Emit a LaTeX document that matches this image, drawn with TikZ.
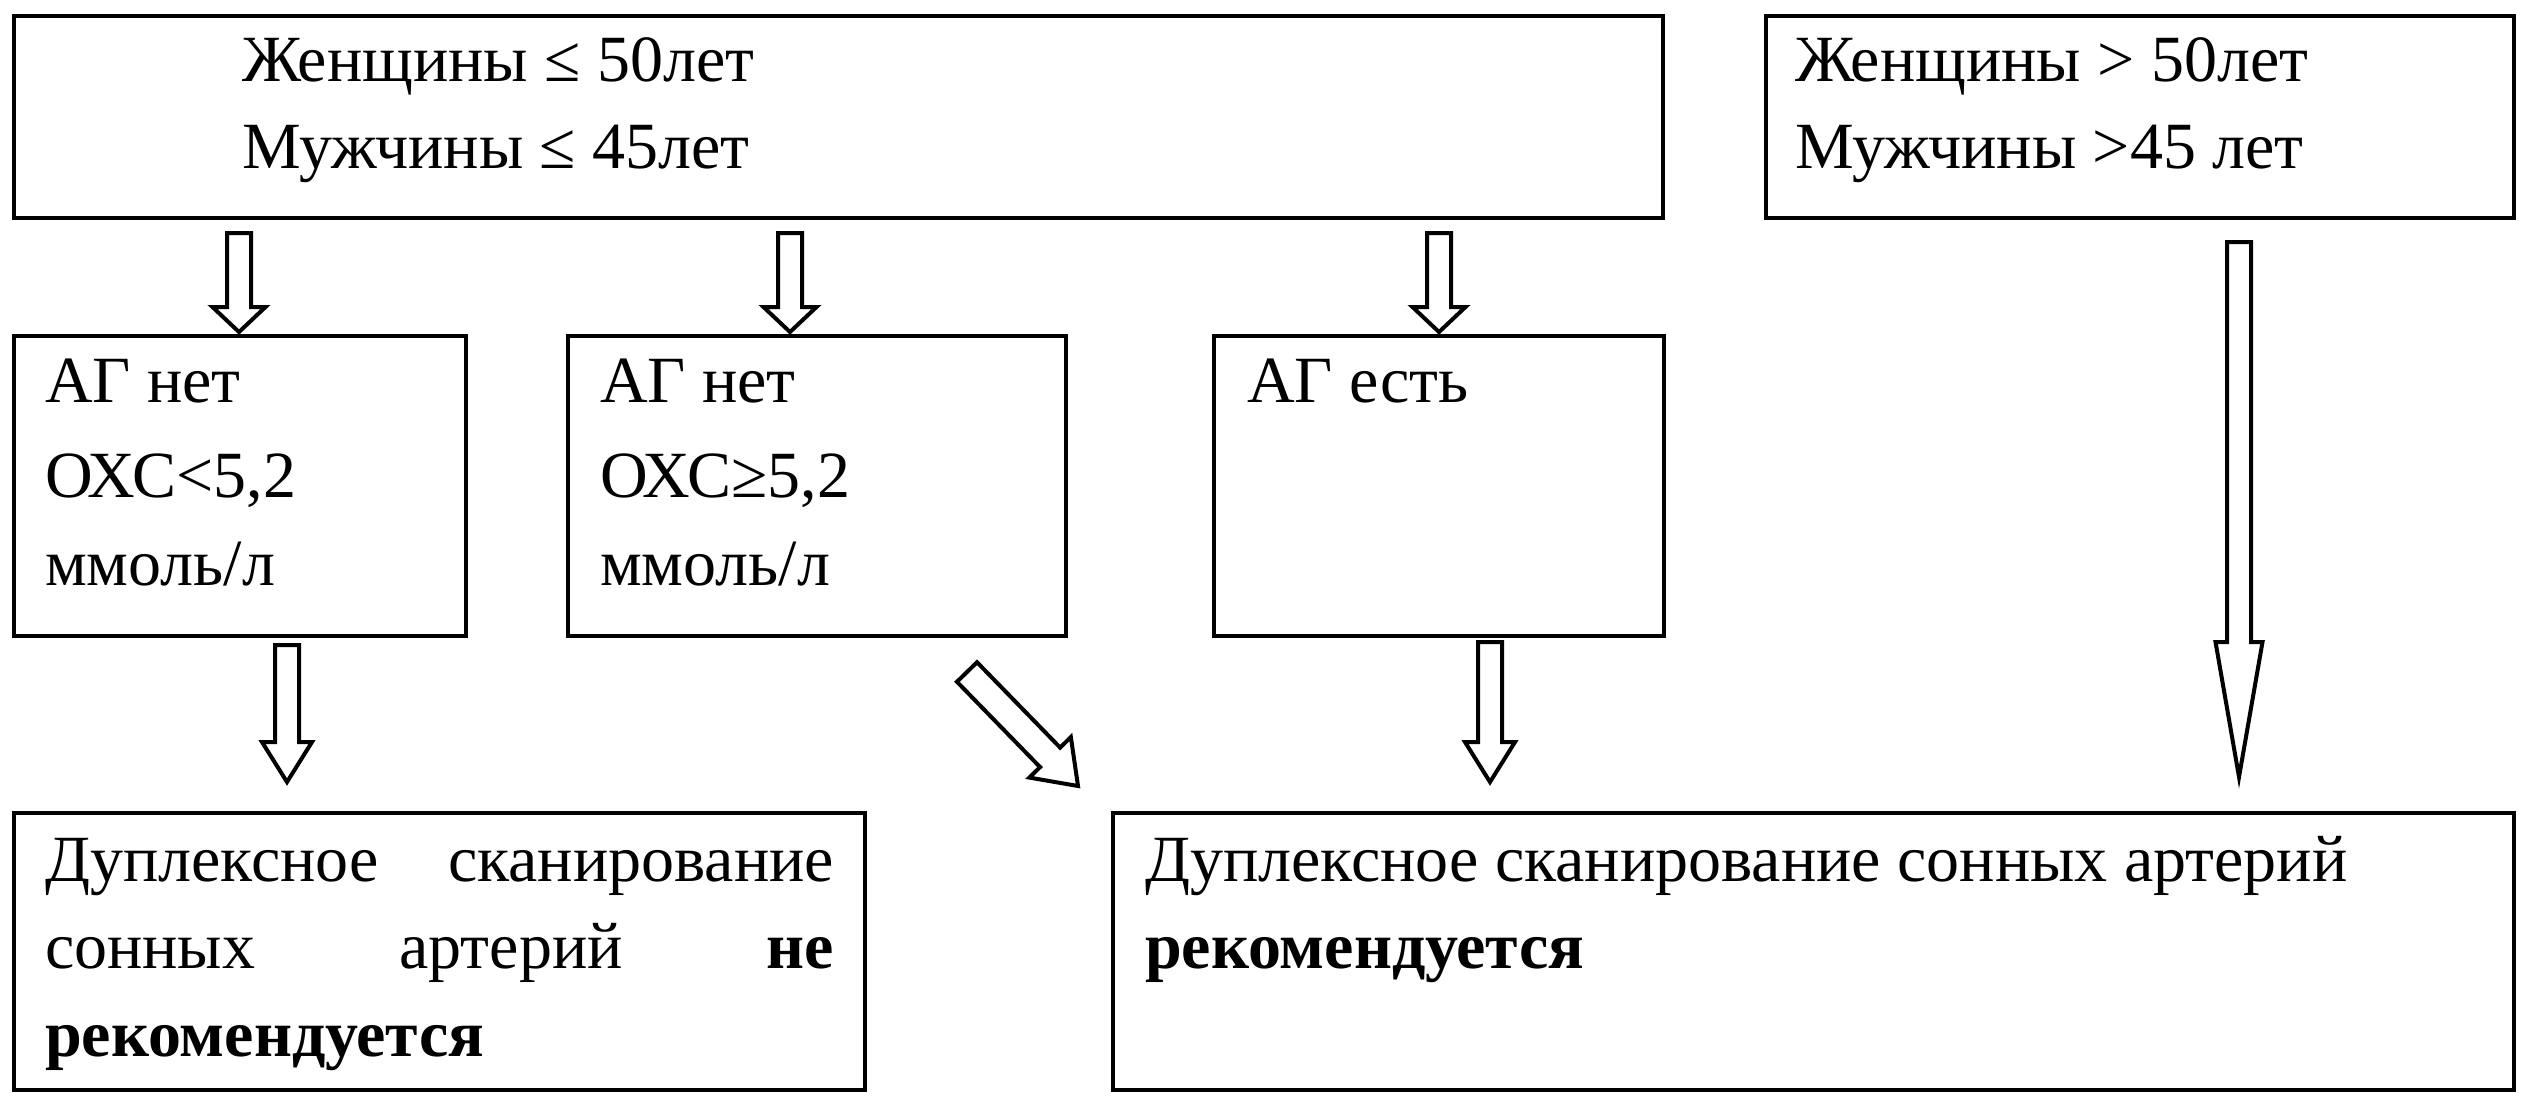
\documentclass[tikz,border=0pt]{standalone}
\usepackage{fontspec}
\setmainfont{Liberation Serif}
\usetikzlibrary{calc}
\tikzset{
  box/.style={draw, line width=4pt, inner sep=0pt, outer sep=0pt, anchor=north west},
  txt/.style={inner sep=0pt, outer sep=0pt, anchor=base west, font=\fontsize{66}{80}\selectfont},
  barrow/.style={draw, line width=4pt, line join=miter, fill=white},
}
% #1 start, #2 tip, #3 shaft half width, #4 head half width, #5 head length
\newcommand{\blockarrow}[5]{%
  \draw[barrow] let \p1=(#1), \p2=(#2),
    \n1={atan2(\y2-\y1,\x2-\x1)}, \n2={veclen(\x2-\x1,\y2-\y1)-#5} in
    ($(\p1)+({\n1+90}:#3)$) -- ($(\p1)+({\n1}:\n2)+({\n1+90}:#3)$)
    -- ($(\p1)+({\n1}:\n2)+({\n1+90}:#4)$) -- (\p2)
    -- ($(\p1)+({\n1}:\n2)+({\n1-90}:#4)$) -- ($(\p1)+({\n1}:\n2)+({\n1-90}:#3)$)
    -- ($(\p1)+({\n1-90}:#3)$) -- cycle;}
\begin{document}
\begin{tikzpicture}[x=1pt,y=1pt]
\useasboundingbox (0,0) rectangle (2529,-1103);
% boxes
\node[box, minimum width=1649pt, minimum height=202pt] (young) at (14,-16) {};
\node[box, minimum width=748pt, minimum height=202pt] (old) at (1766,-16) {};
\node[box, minimum width=452pt, minimum height=300pt] (noag1) at (14,-336) {};
\node[box, minimum width=498pt, minimum height=300pt] (noag2) at (568,-336) {};
\node[box, minimum width=450pt, minimum height=300pt] (ag) at (1214,-336) {};
\node[box, minimum width=851pt, minimum height=277pt] (notrec) at (14,-813) {};
\node[box, minimum width=1401pt, minimum height=277pt] (rec) at (1113,-813) {};
% texts
\node[txt] (y1) at (242,-81) {Женщины ≤ 50лет};
\node[txt] (y2) at (242,-168) {Мужчины ≤ 45лет};
\node[txt] (o1) at (1795,-81) {Женщины > 50лет};
\node[txt] (o2) at (1795,-168) {Мужчины >45 лет};
\node[txt] (a1) at (45,-402) {АГ нет};
\node[txt] (a2) at (45,-497) {ОХС<5,2};
\node[txt] (a3) at (45,-585) {ммоль/л};
\node[txt] (b1) at (600,-402) {АГ нет};
\node[txt] (b2) at (600,-497) {ОХС≥5,2};
\node[txt] (b3) at (600,-585) {ммоль/л};
\node[txt] (c1) at (1247,-402) {АГ есть};
\node[txt] (d1) at (45,-881) {\hbox to 789pt{Дуплексное\hfill сканирование}};
\node[txt] (d2) at (45,-968) {\hbox to 789pt{сонных\hfill артерий\hfill \textbf{не}}};
\node[txt] (d3) at (45,-1056) {\textbf{рекомендуется}};
\node[txt] (e1) at (1145,-881) {Дуплексное сканирование сонных артерий};
\node[txt] (e2) at (1145,-968) {\textbf{рекомендуется}};
% arrow end points
\coordinate (s1) at (239,-233); \coordinate (t1) at (239,-332);
\coordinate (s2) at (790,-233); \coordinate (t2) at (790,-332);
\coordinate (s3) at (1439,-233); \coordinate (t3) at (1439,-332);
\coordinate (s4) at (287,-645); \coordinate (t4) at (287,-782);
\coordinate (s5) at (1490,-642); \coordinate (t5) at (1490,-782);
\coordinate (s6) at (967,-672); \coordinate (t6) at (1078,-786);
\coordinate (s7) at (2239,-242); \coordinate (t7) at (2239,-777);
\blockarrow{s1}{t1}{12}{26.5}{25}
\blockarrow{s2}{t2}{12}{26.5}{25}
\blockarrow{s3}{t3}{12}{26.5}{25}
\blockarrow{s4}{t4}{12}{25}{40}
\blockarrow{s5}{t5}{12}{25}{40}
\blockarrow{s6}{t6}{14}{29}{40}
\blockarrow{s7}{t7}{12}{23.5}{135}
\end{tikzpicture}
\end{document}
